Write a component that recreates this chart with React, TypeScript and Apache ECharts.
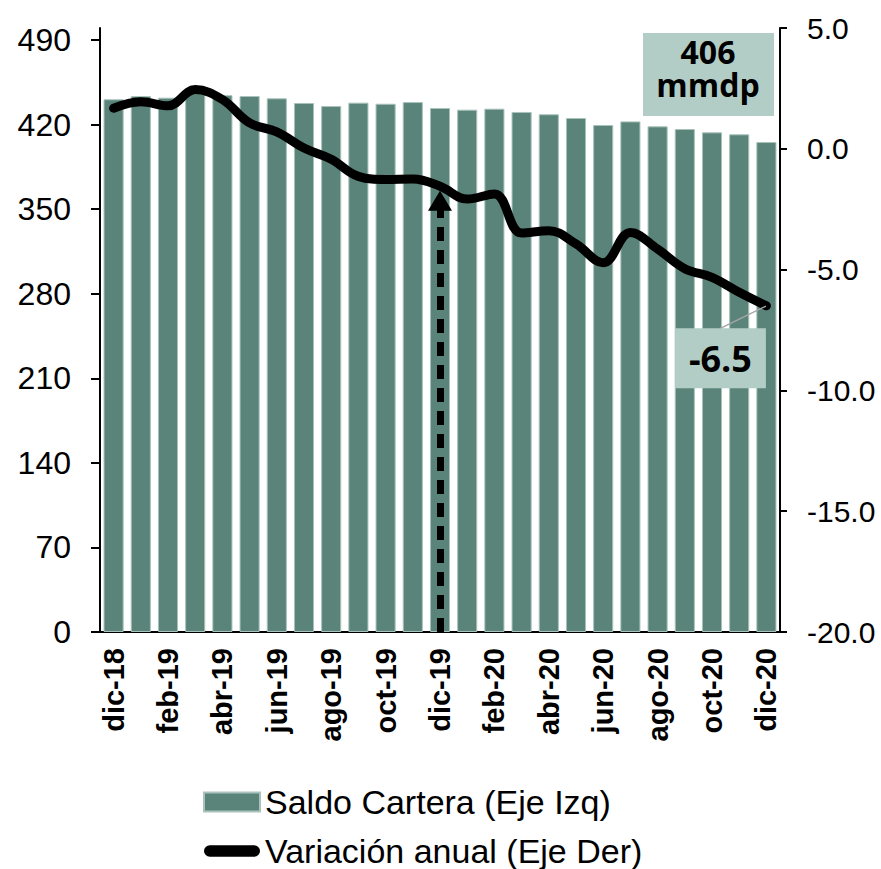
import React, { useEffect, useRef } from "react";
import * as echarts from "echarts";

const categories = [
  "dic-18", "ene-19", "feb-19", "mar-19", "abr-19", "may-19", "jun-19", "jul-19",
  "ago-19", "sep-19", "oct-19", "nov-19", "dic-19", "ene-20", "feb-20", "mar-20",
  "abr-20", "may-20", "jun-20", "jul-20", "ago-20", "sep-20", "oct-20", "nov-20", "dic-20",
];
const saldoCartera = [
  441, 443.7, 442.3, 446.5, 444.4, 443.7, 441.8, 437.9, 435.4, 438.2, 437.3, 438.7, 433.8,
  432.4, 433.2, 430.5, 428.6, 425.5, 419.7, 422.7, 418.6, 416.4, 413.6, 412, 405.6,
];
const variacionAnual = [
  1.68, 1.95, 1.78, 2.45, 2.04, 1.07, 0.7, 0.03, -0.43, -1.14, -1.27, -1.25, -1.55,
  -2.08, -1.87, -3.49, -3.39, -3.94, -4.72, -3.46, -4.15, -4.96, -5.32, -5.94, -6.5,
];
const leftTicks = [0, 70, 140, 210, 280, 350, 420, 490];
const arrowCategory = "dic-19";
const saldoUnit = "mmdp";

const BAR_COLOR = "#5a8479";
const BOX_COLOR = "#b2cdc6";

export default function App() {
  const ref = useRef<HTMLDivElement>(null);
  useEffect(() => {
    if (!ref.current) return;
    const chart = echarts.init(ref.current, null, { renderer: "svg" });
    const last = variacionAnual.length - 1;
    const lineData = variacionAnual.map((v, i) =>
      i === last
        ? {
            value: v,
            label: {
              show: true,
              formatter: (p: any) => Number(p.value).toFixed(1),
              position: "bottom",
              distance: 0,
              fontFamily: "Open Sans",
              fontWeight: "bold",
              fontSize: 36,
              color: "#000",
              backgroundColor: BOX_COLOR,
              padding: [5, 14, 5, 14],
              lineHeight: 50,
            },
          }
        : v
    );
    const axisFont = { fontFamily: "Liberation Sans", color: "#000" };
    const boxText = {
      fontFamily: "Open Sans",
      fontWeight: "bold",
      fontSize: 32,
      fill: "#000",
      align: "center",
      verticalAlign: "middle",
    };
    chart.setOption({
      animation: false,
      grid: { left: 100, right: 101, top: 28, bottom: 237, containLabel: false },
      legend: {
        orient: "vertical",
        left: 198,
        top: 780,
        height: 120,
        itemWidth: 56,
        itemHeight: 19,
        itemGap: 15,
        textStyle: { ...axisFont, fontSize: 34 },
        data: [
          { name: "Saldo Cartera (Eje Izq)", icon: "rect" },
          {
            name: "Variación anual (Eje Der)",
            icon: "path://M6,0 H52 A6,6 0 0 1 52,12 H6 A6,6 0 0 1 6,0 Z",
            itemStyle: { color: "#000" },
          },
        ],
      },
      xAxis: {
        type: "category",
        data: categories,
        boundaryGap: true,
        axisLine: { lineStyle: { color: "#000", width: 2 } },
        axisTick: { interval: 1, length: 8, lineStyle: { color: "#000", width: 2 } },
        axisLabel: {
          ...axisFont,
          interval: 1,
          rotate: 90,
          fontSize: 29,
          fontWeight: "bold",
          margin: 16,
        },
      },
      yAxis: [
        {
          type: "value",
          min: 0,
          max: 500,
          interval: 70,
          position: "left",
          splitLine: { show: false },
          axisLine: { show: true, lineStyle: { color: "#000", width: 2 } },
          axisTick: {
            show: true,
            length: 9,
            customValues: leftTicks,
            lineStyle: { color: "#000", width: 2 },
          },
          axisLabel: { ...axisFont, fontSize: 32, margin: 29, customValues: leftTicks },
        },
        {
          type: "value",
          min: -20,
          max: 5,
          interval: 5,
          position: "right",
          splitLine: { show: false },
          axisLine: { show: true, lineStyle: { color: "#000", width: 2 } },
          axisTick: { show: true, length: 7, lineStyle: { color: "#000", width: 2 } },
          axisLabel: {
            ...axisFont,
            fontSize: 30,
            margin: 27,
            formatter: (v: number) => v.toFixed(1),
          },
        },
      ],
      series: [
        {
          name: "Saldo Cartera (Eje Izq)",
          type: "bar",
          yAxisIndex: 0,
          data: saldoCartera,
          barCategoryGap: "26%",
          itemStyle: { color: BAR_COLOR, borderColor: "#a9c3bc", borderWidth: 1 },
          z: 1,
        },
        {
          name: "Variación anual (Eje Der)",
          type: "line",
          yAxisIndex: 1,
          data: lineData,
          smooth: 0.4,
          showSymbol: true,
          symbol: "circle",
          symbolSize: 1,
          itemStyle: { color: "#000" },
          lineStyle: { color: "#000", width: 9, cap: "round", join: "round" },
          labelLayout: (params: any) =>
            params.dataIndex === last ? { dx: -46, dy: 22 } : {},
          labelLine: { show: true, lineStyle: { color: "#a6a6a6", width: 1.5 } },
          z: 3,
          markLine: {
            silent: true,
            symbol: ["none", "triangle"],
            symbolSize: [24, 20],
            label: { show: false },
            lineStyle: { color: "#000", width: 7, type: [14, 9] },
            data: [
              [
                { coord: [arrowCategory, -20] },
                { coord: [arrowCategory, -2.15] },
              ],
            ],
            z: 2,
          },
        },
      ],
      graphic: [
        {
          type: "rect",
          left: 643,
          top: 33,
          shape: { width: 131, height: 83 },
          style: { fill: BOX_COLOR },
          z: 10,
        },
        {
          type: "text",
          x: 708,
          y: 51,
          style: { ...boxText, text: `${Math.round(saldoCartera[last])}` },
          z: 11,
        },
        {
          type: "text",
          x: 708,
          y: 84.5,
          style: { ...boxText, text: saldoUnit },
          z: 11,
        },
      ],
    });
    return () => chart.dispose();
  }, []);
  return (
    <div
      ref={ref}
      style={{ position: "absolute", left: 0, top: 0, width: 881, height: 869 }}
    />
  );
}
